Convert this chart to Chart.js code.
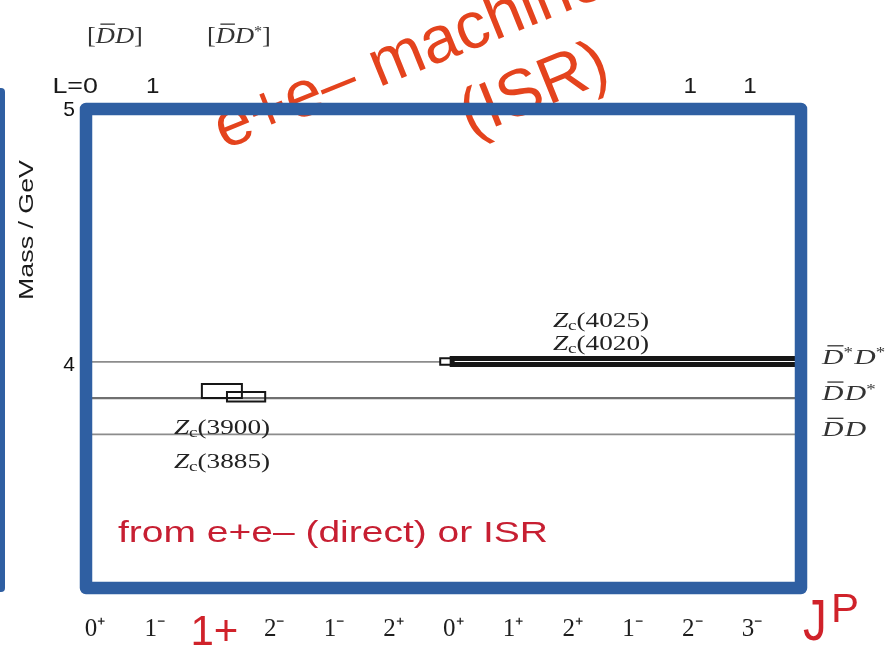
<!DOCTYPE html>
<html><head><meta charset="utf-8">
<script src="https://cdn.jsdelivr.net/npm/chart.js@4.4.1/dist/chart.umd.min.js"></script>
<style>html,body{margin:0;padding:0;background:#fff;}#wrap{width:889px;height:647px;position:relative;}</style>
</head><body><div id="wrap"><canvas id="c"></canvas></div>
<script>
// ---- data ----
const jpLabels = ['0⁺','1⁻','1+','2⁻','1⁻','2⁺','0⁺','1⁺','2⁺','1⁻','2⁻','3⁻'];
const orbitalL = ['L=0','1',null,null,null,null,null,null,null,null,'1','1'];
const thresholdMass = [4.0137, 3.8717, 3.7297];
const thresholdBar = ['D*','D','D'];
const thresholdOther = ['D*','D*','D'];
const pairBar = ['D','D','D*'];
const pairOther = ['D','D*','D*'];
const stateNames = ['Zc(3900)','Zc(3885)','Zc(4020)','Zc(4025)'];
const stateColFrom = [1.79, 2.21, 5.78, 5.98];
const stateColTo = [2.46, 2.85, 5.98, 11.8];
const stateMassLow = [3.872, 3.858, 4.002, 4.003];
const stateMassHigh = [3.927, 3.896, 4.028, 4.027];
const massTicks = [4, 5];

const X_MIN = -0.15, X_MAX = 11.82, Y_MIN = 3.128, Y_MAX = 5.0;

// ---- datasets ----
const datasets = [];
thresholdMass.forEach((m, i) => {
  datasets.push({
    label: thresholdBar[i] + thresholdOther[i], showLine: true, order: 2,
    data: [{x: X_MIN, y: m}, {x: i === 0 ? stateColFrom[2] : X_MAX, y: m}],
    borderColor: i === 1 ? '#707070' : '#8c8c8c', borderWidth: i === 1 ? 2.2 : 1.6,
    pointRadius: 0
  });
});
stateNames.forEach((n, i) => {
  const x0 = stateColFrom[i], x1 = stateColTo[i], y0 = stateMassLow[i], y1 = stateMassHigh[i];
  datasets.push({
    label: n, showLine: true, order: 1,
    data: [{x: x0, y: y0}, {x: x1, y: y0}, {x: x1, y: y1}, {x: x0, y: y1}, {x: x0, y: y0}],
    borderColor: '#161616', borderWidth: i === 3 ? 5 : 2,
    borderJoinStyle: 'miter', borderCapStyle: 'square', pointRadius: 0, tension: 0
  });
});

// ---- text helpers ----
const it = s => `italic ${s}px "Liberation Serif"`;
const rm = s => `${s}px "Liberation Serif"`;
function rich(ctx, segs, x, y, opt) {
  opt = opt || {};
  const sx = opt.sx || 1, align = opt.align || 'left', color = opt.color || '#222';
  ctx.save();
  let total = 0;
  const ws = segs.map(s => { ctx.font = s.font; const w = ctx.measureText(s.t).width; total += w; return w; });
  let cx = align === 'center' ? x - total * sx / 2 : align === 'right' ? x - total * sx : x;
  ctx.fillStyle = color; ctx.strokeStyle = color; ctx.textAlign = 'left'; ctx.textBaseline = 'alphabetic';
  segs.forEach((s, i) => {
    ctx.save(); ctx.translate(cx, y + (s.dy || 0)); ctx.scale(sx, 1); ctx.font = s.font; ctx.fillText(s.t, 0, 0);
    if (s.over) {
      ctx.lineWidth = 1.3; ctx.beginPath();
      ctx.moveTo(s.over[0], -s.over[1]); ctx.lineTo(ws[i], -s.over[1]); ctx.stroke();
    }
    ctx.restore();
    cx += ws[i] * sx;
  });
  ctx.restore();
}
function mesonSegs(name, size, over) {
  const segs = [{t: 'D', font: it(size), over: over ? [4, size * 0.82] : null}];
  if (name.endsWith('*')) segs.push({t: '*', font: rm(Math.round(size * 0.62)), dy: -size * 0.3});
  return segs;
}
function txt(ctx, s, font, x, y, opt) {
  opt = opt || {};
  ctx.save(); ctx.font = font; ctx.fillStyle = opt.color || '#222'; ctx.textBaseline = 'alphabetic'; ctx.textAlign = 'left';
  const w = ctx.measureText(s).width; const sx = opt.w ? opt.w / w : (opt.sx || 1);
  let x0 = x; if (opt.align === 'center') x0 = x - w * sx / 2; else if (opt.align === 'right') x0 = x - w * sx;
  ctx.translate(x0, y); ctx.scale(sx, 1); ctx.fillText(s, 0, 0); ctx.restore();
}

const decor = {
  id: 'decor',
  afterDatasetsDraw(chart) {
    const {ctx, chartArea: a, scales: {x, y}} = chart;
    // red rotated annotation (behind the frame)
    ctx.save();
    ctx.fillStyle = '#e4431d';
    ctx.font = '66px "Liberation Sans"';
    ctx.translate(224, 150); ctx.rotate(-22 * Math.PI / 180);
    ctx.textBaseline = 'alphabetic'; ctx.textAlign = 'left';
    ctx.fillText('e+e– machine', 0, 0);
    ctx.textAlign = 'center';
    ctx.fillText('(ISR)', 310, 80);
    ctx.restore();

    // blue frames
    ctx.save();
    ctx.strokeStyle = '#2f5fa2'; ctx.fillStyle = '#2f5fa2';
    ctx.lineWidth = 12.5; ctx.lineJoin = 'round';
    ctx.strokeRect(a.left, a.top - 1, a.right - a.left, a.bottom - a.top + 1);
    ctx.beginPath(); ctx.roundRect(-8, 88, 13, 504, 4); ctx.fill();
    ctx.restore();

    // axis title
    ctx.save(); ctx.translate(33, 230); ctx.rotate(-Math.PI / 2);
    txt(ctx, 'Mass / GeV', '21px "Liberation Sans"', 0, 0, {align: 'center', w: 140, color: '#1a1a1a'});
    ctx.restore();

    // orbital L labels (top)
    orbitalL.forEach((l, i) => {
      if (!l) return;
      const px = x.getPixelForValue(i);
      if (i === 0) txt(ctx, l, '22px "Liberation Sans"', px + 3, 93, {align: 'right', sx: 1.22, color: '#1a1a1a'});
      else txt(ctx, l, '22px "Liberation Sans"', px - 2, 93, {align: 'center', sx: 1.1, color: '#1a1a1a'});
    });

    // pair headers (top)
    const hx = [87, 207, 327];
    pairBar.forEach((b, i) => {
      const segs = [{t: '[', font: rm(23)}, ...mesonSegs(b, 23, true), ...mesonSegs(pairOther[i], 23, false), {t: ']', font: rm(23)}];
      ctx.save();
      if (i === 2) { ctx.beginPath(); ctx.rect(0, 0, 889, 23); ctx.clip(); }
      rich(ctx, segs, hx[i], 43, {sx: 1.15, color: '#333'});
      ctx.restore();
    });

    // threshold labels (right)
    thresholdMass.forEach((m, i) => {
      const py = y.getPixelForValue(m) + 2;
      const segs = [...mesonSegs(thresholdBar[i], 22, true), {t: ' ', font: rm(4)}, ...mesonSegs(thresholdOther[i], 22, false)];
      rich(ctx, segs, 822, py, {sx: 1.35, color: '#333'});
    });

    // state labels
    const lab = [[222, 434], [222, 468], [601, 350], [601, 327]];
    stateNames.forEach((n, i) => {
      const segs = [{t: 'Z', font: it(20)}, {t: 'c', font: rm(14), dy: 3}, {t: n.slice(2), font: rm(20)}];
      rich(ctx, segs, lab[i][0], lab[i][1], {sx: 1.36, align: 'center', color: '#222'});
    });

    // red notes
    txt(ctx, 'from e+e– (direct) or ISR', '30px "Liberation Sans"', 118, 542, {w: 430, color: '#c71f32'});
    txt(ctx, 'J', '58px "Liberation Sans"', 803, 640, {color: '#d0222a', sx: 0.82});
    txt(ctx, 'P', '40px "Liberation Sans"', 831, 622, {color: '#d0222a', sx: 1.05});
  }
};

new Chart(document.getElementById('c'), {
  type: 'scatter',
  data: {datasets},
  options: {
    responsive: true, maintainAspectRatio: false, animation: false,
    layout: {padding: {top: 110, right: 88, left: 0, bottom: 0}},
    plugins: {legend: {display: false}, tooltip: {enabled: false}},
    elements: {point: {radius: 0}, line: {tension: 0}},
    scales: {
      x: {
        type: 'linear', min: X_MIN, max: X_MAX,
        grid: {display: false}, border: {display: false},
        afterBuildTicks: s => { s.ticks = jpLabels.map((_, i) => ({value: i})); },
        afterFit: s => { s.height = 59; },
        ticks: {
          autoSkip: false, maxRotation: 0, minRotation: 0, padding: 18,
          callback: v => jpLabels[v] ?? '',
          color: c => (c.tick && c.tick.value === 2) ? '#d0222a' : '#1e1e1e',
          font: c => (c.tick && c.tick.value === 2)
            ? {family: 'Liberation Sans', size: 42, lineHeight: '38px'}
            : {family: 'Liberation Serif', size: 25}
        }
      },
      y: {
        type: 'linear', min: Y_MIN, max: Y_MAX,
        grid: {display: false}, border: {display: false},
        afterBuildTicks: s => { s.ticks = massTicks.map(v => ({value: v})); },
        afterFit: s => { s.width = 86; },
        ticks: {padding: 3, color: '#111', font: {family: 'Liberation Sans', size: 21}, callback: v => String(v)}
      }
    }
  },
  plugins: [decor]
});
</script></body></html>
